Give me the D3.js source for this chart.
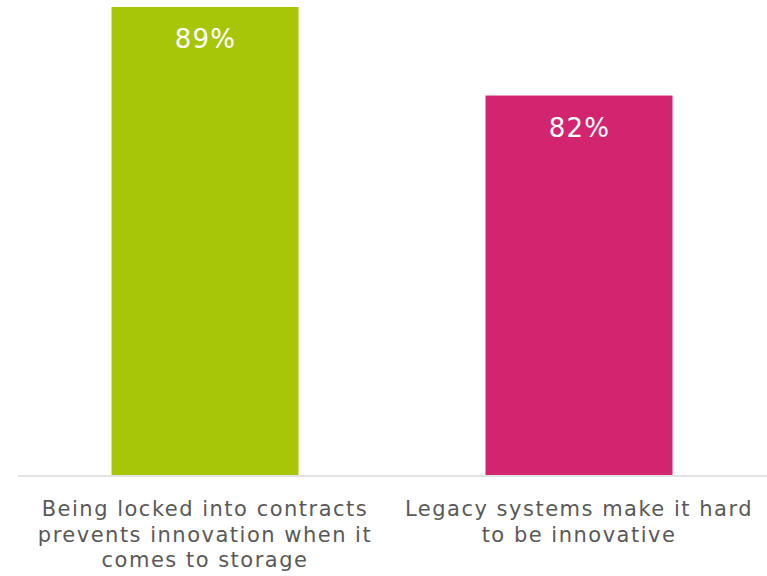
<!DOCTYPE html>
<html>
<head>
<meta charset="utf-8">
<script src="https://cdn.jsdelivr.net/npm/d3@7"></script>
<style>
  html, body { margin: 0; padding: 0; background: #fff; }
  svg { display: block; }
</style>
</head>
<body>
<svg id="chart" width="767" height="576"></svg>
<script>
// Survey statements and share of respondents agreeing
const categories = [
  "Being locked into contracts prevents innovation when it comes to storage",
  "Legacy systems make it hard to be innovative"
];
const values = [89, 82];
const valueLabels = ["89%", "82%"];
const tickLines = [
  ["Being locked into contracts", "prevents innovation when it", "comes to storage"],
  ["Legacy systems make it hard", "to be innovative"]
];
const barColors = ["#a8c608", "#d2246f"];

const W = 767, H = 576;
const svg = d3.select("#chart");
const font = "Verdana, 'DejaVu Sans', sans-serif";

const x = d3.scaleBand()
  .domain(categories)
  .range([18, 766])
  .paddingInner(0.5)
  .paddingOuter(0.25);

const y = d3.scaleLinear()
  .domain([52, 89])
  .range([475, 7]);

// bars
svg.selectAll("rect.bar")
  .data(categories)
  .join("rect")
  .attr("class", "bar")
  .attr("x", d => x(d))
  .attr("width", x.bandwidth())
  .attr("y", (d, i) => y(values[i]))
  .attr("height", (d, i) => y.range()[0] - y(values[i]))
  .attr("fill", (d, i) => barColors[i]);

// value labels inside the bar tops
svg.selectAll("text.val")
  .data(categories)
  .join("text")
  .attr("class", "val")
  .attr("x", d => x(d) + x.bandwidth() / 2 + 0.5)
  .attr("y", (d, i) => y(values[i]) + 41)
  .attr("text-anchor", "middle")
  .attr("fill", "#ffffff")
  .style("font-family", font)
  .style("font-size", "26px")
  .style("letter-spacing", "1.2px")
  .text((d, i) => valueLabels[i]);

// baseline
svg.append("line")
  .attr("x1", 18).attr("x2", W)
  .attr("y1", 476).attr("y2", 476)
  .attr("stroke", "#d9d9d9")
  .attr("stroke-width", 1.5);

// category labels, wrapped
const lab = svg.selectAll("text.cat")
  .data(categories)
  .join("text")
  .attr("class", "cat")
  .attr("text-anchor", "middle")
  .attr("fill", "#595959")
  .style("font-family", font)
  .style("font-size", "21px")
  .style("letter-spacing", "1.5px");

lab.each(function(d, i) {
  const cx = x(d) + x.bandwidth() / 2;
  d3.select(this).selectAll("tspan")
    .data(tickLines[i])
    .join("tspan")
    .attr("x", cx)
    .attr("y", (t, j) => 516 + j * 25.5)
    .text(t => t);
});
</script>
</body>
</html>
